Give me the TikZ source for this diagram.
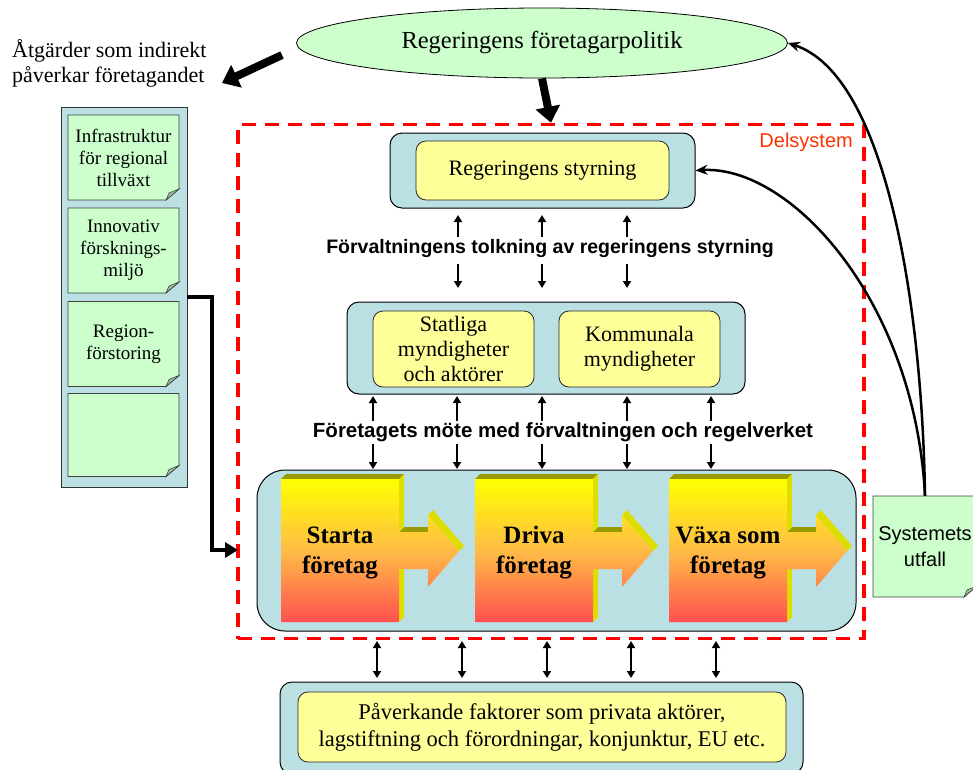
\documentclass[tikz,border=0pt]{standalone}
\usepackage{fontspec}
\setmainfont{Liberation Serif}
\newfontfamily\arialf{Liberation Sans}
\usetikzlibrary{arrows.meta,calc,shapes.geometric}

\definecolor{lblue}{RGB}{187,224,227}
\definecolor{lyellow}{RGB}{255,255,153}
\definecolor{lgreen}{RGB}{204,255,204}
\definecolor{foldgreen}{RGB}{160,190,160}
\definecolor{delred}{RGB}{255,51,0}
\definecolor{olivetop}{RGB}{153,153,0}
\definecolor{sideyel}{RGB}{221,221,0}
\definecolor{gradmid}{RGB}{255,188,70}
\definecolor{gradbot}{RGB}{255,80,80}

\newcommand\fs[2]{\fontsize{#1}{#2}\selectfont}

% [options] name cx cy w h text
\newcommand\stickynote[7][]{%
  \filldraw[fill=lgreen, draw=black!75, line width=0.8pt]
    ({#3-#5/2},{#4-#6/2}) -- ({#3+#5/2},{#4-#6/2}) -- ({#3+#5/2},{#4+#6/2-11})
    -- ({#3+#5/2-13},{#4+#6/2}) -- ({#3-#5/2},{#4+#6/2}) -- cycle;
  \filldraw[fill=foldgreen, draw=black!75, line width=0.6pt]
    ({#3+#5/2},{#4+#6/2-11}) -- ({#3+#5/2-10},{#4+#6/2-7}) -- ({#3+#5/2-13},{#4+#6/2}) -- cycle;
  \node[notetext, minimum width=#5pt, minimum height=#6pt, #1] (#2) at (#3,#4) {#7};
}

\begin{document}
\begin{tikzpicture}[x=1pt,y=-1pt,
  outerbox/.style={draw=black, line width=1pt, fill=lblue, rounded corners=12pt, inner sep=0pt},
  innerbox/.style={draw=black!85, line width=0.8pt, fill=lyellow, rounded corners=10pt, inner sep=0pt, align=center, font=\fs{22}{25}},
  notetext/.style={inner sep=0pt, align=center, font=\fs{19}{22}},
  smallarr/.style={line width=1.8pt, -{Triangle[length=7pt,width=8pt]}},
  dblarr/.style={line width=1.8pt, {Triangle[length=7pt,width=8pt]}-{Triangle[length=7pt,width=8pt]}},
  bigarr/.style={line width=8pt, -{Triangle[length=16pt,width=24pt]}},
  feedarr/.style={line width=2.5pt, -{Stealth[length=12pt,width=10pt]}},
  boldlab/.style={font=\arialf\bfseries\fs{19.5}{22}, inner sep=1pt},
  blocktext/.style={font=\bfseries\fs{25}{30}, align=center, inner sep=0pt}
]
\useasboundingbox (0,0) rectangle (973,769);
\clip (0,0) rectangle (973,769);

% top ellipse
\node[ellipse, draw=black, line width=0.8pt, fill=lgreen, minimum width=491pt, minimum height=70pt, inner sep=0pt,
      font=\fs{24.5}{27}] (ell) at (542,43) {Regeringens företagarpolitik};

% label top left
\node[align=left, anchor=west, font=\fs{22}{25}, inner sep=0pt] (atg) at (12,63) {Åtgärder som indirekt\\påverkar företagandet};
\coordinate (atgA) at (282,55);
\coordinate (atgB) at (222,83);
\draw[bigarr] (atgA) -- (atgB);

% left column
\node[draw=black!80, line width=0.8pt, fill=lblue, minimum width=126pt, minimum height=380pt, inner sep=0pt] (leftcol) at (124,297) {};
\stickynote{n1}{123.5}{157.5}{111}{85}{Infrastruktur\\för regional\\tillväxt}
\stickynote{n2}{123.5}{250.5}{111}{85}{Innovativ\\försknings-\\miljö}
\stickynote{n3}{123.5}{344}{111}{85}{Region-\\förstoring}
\stickynote{n4}{123.5}{435}{111}{83}{}

% dashed subsystem
\node[draw=red, line width=3.5pt, dash pattern=on 14pt off 9pt, minimum width=626pt, minimum height=514pt, inner sep=0pt] (delsys) at (551,381.5) {};
\node[anchor=east, text=delred, font=\arialf\fs{20}{23}, inner sep=0pt] (delsyslab) at (853,142) {Delsystem};

\draw[bigarr] (ell.south) -- (delsys.north);

% Regeringens styrning
\node[outerbox, minimum width=305pt, minimum height=75pt] (rsout) at (542.5,170.5) {};
\node[innerbox, minimum width=253pt, minimum height=59pt] (rsin) at (542.5,170.5) {Regeringens styrning};

\node[boldlab] (lab1) at (550,248) {Förvaltningens tolkning av regeringens styrning};
\foreach \xx in {458,542,627}{
  \draw[smallarr] (\xx,237) -- (\xx,215);
  \draw[smallarr] (\xx,264) -- (\xx,288);
}

% myndigheter
\node[outerbox, minimum width=398pt, minimum height=92pt] (midout) at (546,348) {};
\node[innerbox, minimum width=161pt, minimum height=76pt] (stat) at (453.5,349) {Statliga\\myndigheter\\och aktörer};
\node[innerbox, minimum width=161pt, minimum height=76pt] (komm) at (639.5,349) {Kommunala\\myndigheter};

\node[boldlab, font=\arialf\bfseries\fs{20.5}{23}] (lab2) at (563,432) {Företagets möte med förvaltningen och regelverket};
\foreach \xx in {373,457,542,627,711}{
  \draw[smallarr] (\xx,421) -- (\xx,396);
  \draw[smallarr] (\xx,444) -- (\xx,469);
}

% big process box
\node[outerbox, rounded corners=28pt, minimum width=599pt, minimum height=161pt] (big) at (556.5,550.5) {};

\foreach \i/\txt in {0/{Starta\\företag},1/{Driva\\företag},2/{Växa som\\företag}}{
  \pgfmathsetmacro\dx{194*\i}
  % top faces
  \fill[olivetop] ({281+\dx},479) -- ({286+\dx},474) -- ({404+\dx},474) -- ({399+\dx},479) -- cycle;
  \fill[olivetop] ({399+\dx},532) -- ({404+\dx},527) -- ({433+\dx},527) -- ({428+\dx},532) -- cycle;
  % side faces
  \fill[sideyel] ({399+\dx},479) -- ({404+\dx},474) -- ({404+\dx},527) -- ({399+\dx},532) -- cycle;
  \fill[sideyel] ({399+\dx},569) -- ({404+\dx},564) -- ({404+\dx},617) -- ({399+\dx},622) -- cycle;
  \fill[sideyel] ({428+\dx},515) -- ({433+\dx},510) -- ({464+\dx},546) -- ({459+\dx},551) -- cycle;
  % front face
  \shade[top color=yellow, bottom color=gradbot, middle color=gradmid]
    ({281+\dx},479) -- ({399+\dx},479) -- ({399+\dx},532) -- ({428+\dx},532) -- ({428+\dx},515)
    -- ({459+\dx},551) -- ({428+\dx},587) -- ({428+\dx},569) -- ({399+\dx},569) -- ({399+\dx},622)
    -- ({281+\dx},622) -- cycle;
  \node[blocktext] (blk\i) at ({340+\dx},553) {\txt};
}

% left connector
\coordinate (entry) at (238,550);
\draw[line width=4pt, -{Triangle[length=13pt,width=15pt]}] (leftcol.east) -- ++(25,0) |- (entry);

% system outcome
\stickynote[font=\arialf\fs{20}{26}]{sys}{925}{546.5}{104}{101}{Systemets\\utfall}
\draw[feedarr] (sys.north) .. controls (922,300) and (885,75) .. (ell.east);
\draw[feedarr] (sys.north) .. controls (915,300) and (790,165) .. (rsout.east);

% bottom factors
\foreach \xx in {377,462,547,631,716}{
  \draw[dblarr] (\xx,641) -- (\xx,678);
}
\node[outerbox, minimum width=523pt, minimum height=92pt] (botout) at (541.5,728) {};
\node[innerbox, minimum width=488pt, minimum height=70pt, font=\fs{22.5}{27}] (botin) at (542,727)
  {Påverkande faktorer som privata aktörer,\\lagstiftning och förordningar, konjunktur, EU etc.};

\end{tikzpicture}
\end{document}
